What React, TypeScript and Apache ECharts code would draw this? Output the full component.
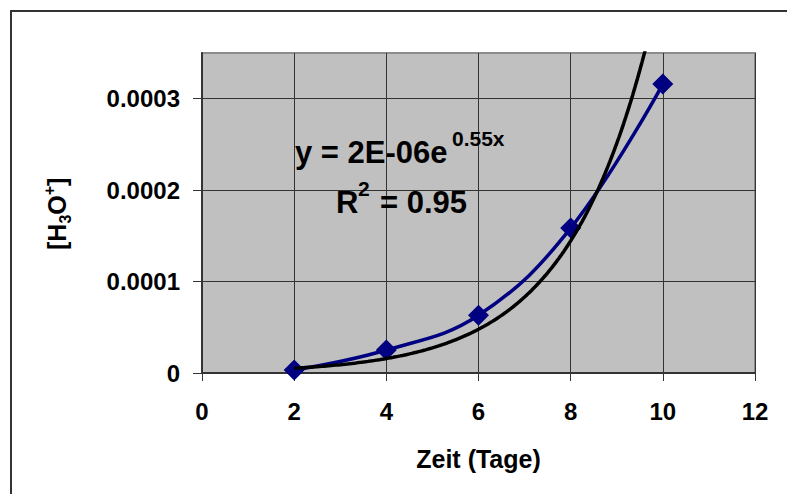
import React, { useEffect, useRef } from "react";
import * as echarts from "echarts";

// Data
const days = [2, 4, 6, 8, 10];
const h3o = [0.00000316, 0.0000251, 0.0000631, 0.0001585, 0.000316];
const xTickValues = [0, 2, 4, 6, 8, 10, 12];
const yTickValues = [0, 0.0001, 0.0002, 0.0003];
const yTickLabels = ["0", "0.0001", "0.0002", "0.0003"];
const xTitle = "Zeit (Tage)";
const eqMain = "y = 2E-06e";
const eqExp = "0.55x";
const r2Text = "= 0.95";

// Exponential trendline (least squares on ln y), as Excel computes it
function expFit(xs: number[], ys: number[]) {
  const n = xs.length;
  const ly = ys.map((v) => Math.log(v));
  const mx = xs.reduce((s, v) => s + v, 0) / n;
  const my = ly.reduce((s, v) => s + v, 0) / n;
  let sxy = 0;
  let sxx = 0;
  for (let i = 0; i < n; i++) {
    sxy += (xs[i] - mx) * (ly[i] - my);
    sxx += (xs[i] - mx) * (xs[i] - mx);
  }
  const b = sxy / sxx;
  const a = Math.exp(my - b * mx);
  return { a, b };
}

const FONT = "'Liberation Sans', Arial, sans-serif";

export default function App() {
  const ref = useRef<HTMLDivElement>(null);
  useEffect(() => {
    if (!ref.current) return;
    const chart = echarts.init(ref.current, null, { renderer: "svg" });
    const { a, b } = expFit(days, h3o);
    const trend: number[][] = [];
    const x0 = days[0];
    const x1 = days[days.length - 1];
    const steps = 160;
    for (let i = 0; i <= steps; i++) {
      const x = x0 + ((x1 - x0) * i) / steps;
      trend.push([x, a * Math.exp(b * x)]);
    }
    const blue = days.map((d, i) => [d, h3o[i]]);

    const txt = (text: string, x: number, y: number, size: number) => ({
      type: "text",
      x,
      y,
      z: 10,
      style: {
        text,
        fontFamily: FONT,
        fontWeight: "bold",
        fontSize: size,
        fill: "#000",
        align: "left",
        verticalAlign: "middle",
      },
    });

    chart.setOption({
      animation: false,
      backgroundColor: "#ffffff",
      textStyle: { fontFamily: FONT },
      grid: {
        left: 202,
        right: 32,
        top: 53,
        bottom: 121,
        show: true,
        backgroundColor: "#c0c0c0",
        borderColor: "#8c8c8c",
        borderWidth: 2,
        containLabel: false,
      },
      xAxis: {
        type: "value",
        min: 0,
        max: 12,
        interval: 2,
        name: xTitle,
        nameLocation: "middle",
        nameGap: 73,
        nameTextStyle: {
          fontFamily: FONT,
          fontWeight: "bold",
          fontSize: 25,
          color: "#000",
        },
        axisLine: { show: true, onZero: false, lineStyle: { color: "#333", width: 2 } },
        axisTick: {
          show: true,
          inside: false,
          length: 8,
          lineStyle: { color: "#333", width: 1 },
          customValues: xTickValues,
        },
        axisLabel: {
          margin: 26,
          fontFamily: FONT,
          fontWeight: "bold",
          fontSize: 24,
          color: "#000",
          customValues: xTickValues,
        },
        splitLine: { show: true, lineStyle: { color: "#333", width: 1 } },
      },
      yAxis: {
        type: "value",
        min: 0,
        max: 0.00035,
        interval: 0.0001,
        axisLine: { show: true, onZero: false, lineStyle: { color: "#333", width: 2 } },
        axisTick: {
          show: true,
          inside: false,
          length: 9,
          lineStyle: { color: "#333", width: 1 },
          customValues: yTickValues,
        },
        axisLabel: {
          margin: 22,
          fontFamily: FONT,
          fontWeight: "bold",
          fontSize: 24,
          color: "#000",
          customValues: yTickValues,
          formatter: (v: number) => {
            const idx = yTickValues.findIndex((t) => Math.abs(t - v) < 1e-9);
            return idx >= 0 ? yTickLabels[idx] : "";
          },
        },
        splitLine: { show: true, lineStyle: { color: "#333", width: 1 } },
      },
      series: [
        {
          type: "line",
          data: blue,
          smooth: 0.4,
          symbol: "diamond",
          symbolSize: 21,
          itemStyle: { color: "#000080" },
          lineStyle: { color: "#000080", width: 3.5 },
          z: 3,
        },
        {
          type: "line",
          data: trend,
          smooth: false,
          showSymbol: false,
          symbol: "none",
          clip: true,
          lineStyle: { color: "#000", width: 3.5 },
          z: 4,
        },
      ],
      graphic: [
        {
          type: "rect",
          shape: { x: 11, y: 11, width: 900, height: 700 },
          style: { fill: "none", stroke: "#333", lineWidth: 2 },
          silent: true,
        },
        txt(eqMain, 295, 152, 31),
        txt(eqExp, 452, 138, 21),
        txt("R", 336, 202, 31),
        txt("2", 358, 188, 21),
        txt(r2Text, 380, 202, 31),
        {
          type: "group",
          x: 57,
          y: 214,
          rotation: Math.PI / 2,
          children: [
            txt("[H", -36, 0, 25),
            txt("3", -9.6, 8, 16),
            txt("O", -0.7, 0, 25),
            txt("+", 18.8, -8, 16),
            txt("]", 28.1, 0, 25),
          ],
        },
      ],
    });
    return () => {
      chart.dispose();
    };
  }, []);
  return (
    <div
      ref={ref}
      style={{ position: "fixed", left: 0, top: 0, width: 787, height: 494 }}
    />
  );
}
